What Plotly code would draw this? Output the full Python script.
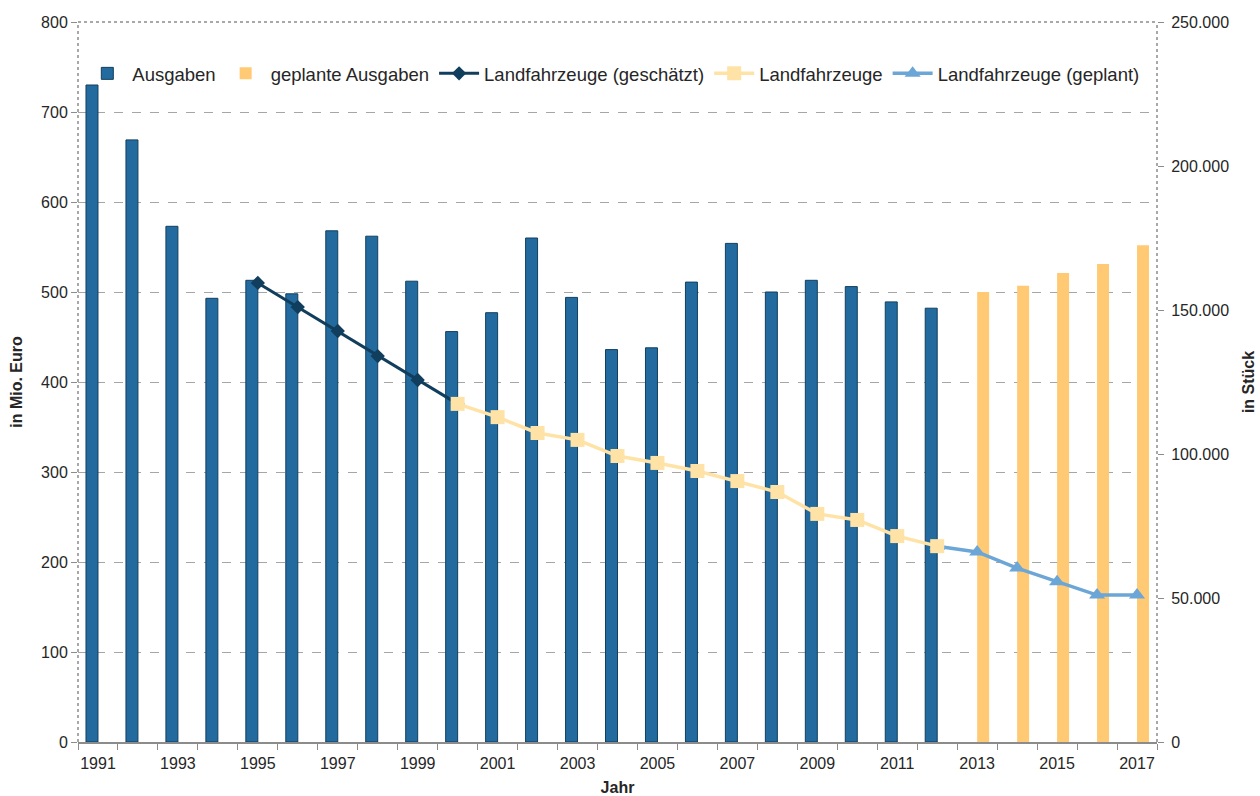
import plotly.graph_objects as go

# Jahre und Werte
ausgaben_years = list(range(1991, 2013))
ausgaben = [730, 669, 573, 493, 513, 498, 568, 562, 512, 456, 477, 560, 494,
            436, 438, 511, 554, 500, 513, 506, 489, 482]
geplant_years = [2013, 2014, 2015, 2016, 2017]
geplante_ausgaben = [500, 507, 521, 531, 552]

lf_geschaetzt_years = [1995, 1996, 1997, 1998, 1999, 2000]
lf_geschaetzt = [159400, 151000, 142700, 134000, 125700, 117400]
lf_years = list(range(2000, 2013))
lf = [117400, 112800, 107300, 104900, 99300, 96900, 94100, 90600, 86800,
      79200, 77100, 71500, 68000]
lf_geplant_years = [2012, 2013, 2014, 2015, 2016, 2017]
lf_geplant = [68000, 66000, 60400, 55600, 51000, 51000]

left_ticks = [0, 100, 200, 300, 400, 500, 600, 700, 800]
right_ticks = [0, 50000, 100000, 150000, 200000, 250000]
label_years = list(range(1991, 2018, 2))

TXT = "#262626"
GRID = "#A6A6A6"
AXIS = "#8C8C8C"
FONT = "Liberation Sans, Arial, sans-serif"

fig = go.Figure()

# paired bars: actual spending left of the year, planned spending right of it
fig.add_trace(go.Bar(
    x=ausgaben_years, y=ausgaben, name="Ausgaben", legendrank=1,
    width=0.3, offset=-0.3,
    marker=dict(color="#236B9E", line=dict(color="#123F5E", width=1)),
))
fig.add_trace(go.Bar(
    x=geplant_years, y=geplante_ausgaben, name="geplante Ausgaben", legendrank=2,
    width=0.3, offset=0,
    marker=dict(color="#FFCA73", line=dict(color="#FFCA73", width=0)),
))
fig.add_trace(go.Scatter(
    x=lf_geschaetzt_years, y=lf_geschaetzt, name="Landfahrzeuge (geschätzt)",
    legendrank=3, yaxis="y2", mode="lines+markers",
    line=dict(color="#103E5C", width=3),
    marker=dict(symbol="diamond", size=11, color="#103E5C"),
))
# planned line drawn before the measured one so its 2012 point sits underneath
fig.add_trace(go.Scatter(
    x=lf_geplant_years, y=lf_geplant, name="Landfahrzeuge (geplant)",
    legendrank=5, yaxis="y2", mode="lines+markers",
    line=dict(color="#6CA6D6", width=3.5),
    marker=dict(symbol="triangle-up", size=14, color="#6CA6D6"),
))
fig.add_trace(go.Scatter(
    x=lf_years, y=lf, name="Landfahrzeuge",
    legendrank=4, yaxis="y2", mode="lines+markers",
    line=dict(color="#FFE3A6", width=3.5),
    marker=dict(symbol="square", size=14, color="#FFE3A6"),
))

fig.update_layout(
    width=1260, height=796,
    margin=dict(l=78, r=103, t=22, b=54),
    paper_bgcolor="white", plot_bgcolor="white",
    font=dict(family=FONT, size=16, color=TXT),
    separators=",.",
    showlegend=True,
    legend=dict(orientation="h", x=0.004, y=0.928, xanchor="left", yanchor="middle",
                font=dict(size=18.5, color=TXT), bgcolor="rgba(0,0,0,0)",
                itemwidth=40, tracegroupgap=0),
    xaxis=dict(
        range=[1990.5, 2017.5], tickmode="array", tickvals=label_years,
        ticktext=[str(y) for y in label_years], ticks="", showgrid=False,
        ticklabelstandoff=6, automargin=False,
        showline=True, linecolor=AXIS, linewidth=1.5,
        minor=dict(ticks="outside", tick0=1990.5, dtick=1, ticklen=6,
                   tickcolor=AXIS, tickwidth=1, showgrid=False),
        title=dict(text="<b>Jahr</b>", font=dict(size=16, color=TXT), standoff=12),
        zeroline=False,
    ),
    yaxis=dict(
        range=[0, 800], tickmode="array", tickvals=left_ticks,
        ticks="outside", ticklen=6, tickcolor=AXIS, automargin=False,
        showgrid=True, gridcolor=GRID, griddash="dash", gridwidth=1,
        showline=False, zeroline=False,
        title=dict(text="<b>in Mio. Euro</b>", font=dict(size=16, color=TXT), standoff=14),
    ),
    yaxis2=dict(
        range=[0, 250000], tickmode="array", tickvals=right_ticks,
        tickformat=",d", overlaying="y", side="right", automargin=False,
        ticks="outside", ticklen=6, tickcolor=AXIS, ticklabelstandoff=4,
        showgrid=False, showline=False, zeroline=False,
        title=dict(text="<b>in Stück</b>", font=dict(size=16, color=TXT), standoff=14),
    ),
)

# dotted frame on left, right and top of the plot area
for x0, y0, x1, y1 in [(0, 0, 0, 1), (1, 0, 1, 1), (0, 1, 1, 1)]:
    fig.add_shape(type="line", xref="paper", yref="paper", x0=x0, y0=y0, x1=x1, y1=y1,
                  line=dict(color=AXIS, width=1.5, dash="dot"), layer="above")

fig.write_html("out.html")
